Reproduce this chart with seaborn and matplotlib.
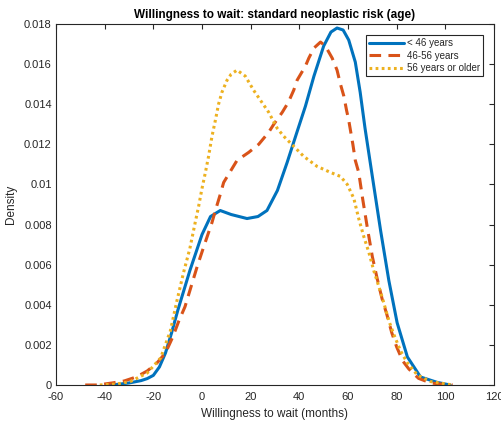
import numpy as np
import pandas as pd
import matplotlib
matplotlib.use("Agg")
import matplotlib.pyplot as plt
import seaborn as sns

# ---- data (density curves) ----
young_x = [-38, -35, -30, -25, -22.5, -20, -17.5, -15, -12.5, -10, -7.5, -5, -2.5, 0, 3.5,
           7.5, 12, 18.5, 23, 26.7, 31, 35, 39, 42.5, 46, 50, 53, 55.5, 58, 60.3, 63, 65, 67,
           70, 73.4, 76.8, 80.2, 84.4, 89.8, 96.7, 102]
young_y = [0.0, 0.00003, 0.0001, 0.00022, 0.00032, 0.00048, 0.0009, 0.0016, 0.0026, 0.0037,
           0.0047, 0.0057, 0.0066, 0.0075, 0.0084, 0.0087, 0.0085, 0.0083, 0.0084, 0.0087,
           0.0097, 0.0111, 0.0126, 0.0139, 0.0154, 0.0169, 0.0176, 0.0178, 0.0177, 0.0172,
           0.0161, 0.0146, 0.0128, 0.0104, 0.0077, 0.0052, 0.0031, 0.0014, 0.0004, 0.00013,
           0.0]

mid_x = [-48, -43, -37, -32, -27, -22.5, -18.5, -15, -12, -9.5, -7, -5, -2, 1, 4.1, 5.5,
         7.5, 8.9, 11.9, 14.4, 19.2, 23.3, 27.4, 29.5, 33, 35.5, 37.7, 39.1, 42.5, 43.9,
         46, 48.7, 50.7, 53.5, 55.5, 56.9, 58.3, 59.4, 60.3, 62, 63, 64.4, 66, 68, 70, 72,
         74, 76, 78, 80, 82.5, 85, 89, 94, 98, 103]
mid_y = [0.0, 0.0, 0.0001, 0.0002, 0.0004, 0.0007, 0.0011, 0.0016, 0.0024, 0.0032, 0.0039,
         0.0047, 0.0059, 0.0070, 0.0081, 0.0087, 0.0095, 0.0101, 0.0107, 0.0112, 0.0116,
         0.0120, 0.0126, 0.0130, 0.0136, 0.0141, 0.0147, 0.0152, 0.0159, 0.0163, 0.0168,
         0.0171, 0.0169, 0.0163, 0.0157, 0.0150, 0.0144, 0.0137, 0.0132, 0.0120, 0.0112,
         0.0106, 0.0093, 0.0078, 0.0064, 0.0053, 0.0043, 0.0035, 0.0026, 0.0019, 0.0012,
         0.0008, 0.00033, 0.0001, 0.00005, 0.0]

old_x = [-42, -35, -29.5, -22.5, -17, -13, -10.3, -7.6, -5, -2.8, -1.4, 0, 1.4, 2.7, 4.1,
         5.5, 6.8, 8.2, 10.3, 12, 14.4, 17.8, 21.2, 24, 27.4, 30.9, 33.6, 37.7, 41.8, 47.3,
         52.8, 56.9, 59.7, 62.4, 64.4, 66.5, 68.6, 70.6, 72.7, 74.7, 76.8, 78.9, 81.6, 84.4,
         88.5, 94, 103]
old_y = [0.0, 0.00005, 0.00017, 0.0006, 0.00135, 0.0027, 0.0042, 0.0056, 0.0068, 0.0081,
         0.0089, 0.0098, 0.0106, 0.0114, 0.0124, 0.0132, 0.0140, 0.0146, 0.0152, 0.0155,
         0.0157, 0.0154, 0.0147, 0.0142, 0.0136, 0.0128, 0.0124, 0.0119, 0.0114, 0.0109,
         0.0106, 0.0104, 0.0100, 0.0093, 0.0083, 0.0074, 0.0066, 0.0057, 0.0049, 0.0041,
         0.0032, 0.0025, 0.0017, 0.0011, 0.0005, 0.00017, 0.0]

labels = ["< 46 years", "46-56 years", "56 years or older"]
x_ticks = [-60, -40, -20, 0, 20, 40, 60, 80, 100, 120]
y_ticks = [0, 0.002, 0.004, 0.006, 0.008, 0.01, 0.012, 0.014, 0.016, 0.018]
y_tick_labels = ["0", "0.002", "0.004", "0.006", "0.008", "0.01", "0.012", "0.014", "0.016", "0.018"]

sns.set_theme(style="white")
plt.rcParams["font.family"] = ["Liberation Sans", "DejaVu Sans"]

fig = plt.figure(figsize=(5.02, 4.21), dpi=100)
ax = fig.add_axes([56 / 502, 1 - 385 / 421, (494 - 56) / 502, (385 - 24) / 421])

df_young = pd.DataFrame({"x": young_x, "y": young_y})
df_mid = pd.DataFrame({"x": mid_x, "y": mid_y})
df_old = pd.DataFrame({"x": old_x, "y": old_y})

lw = 2.2
sns.lineplot(data=df_young, x="x", y="y", ax=ax, color="#0072BD", lw=lw, label=labels[0],
             sort=False)
sns.lineplot(data=df_mid, x="x", y="y", ax=ax, color="#D95319", lw=lw, label=labels[1],
             sort=False)
sns.lineplot(data=df_old, x="x", y="y", ax=ax, color="#EDB120", lw=lw, label=labels[2],
             sort=False)
lines = ax.get_lines()
lines[1].set_dashes((3.8, 2.4))
lines[2].set_dashes((0.9, 1.1))
for ln in lines:
    ln.set_solid_joinstyle("round")
    ln.set_dash_joinstyle("round")

ax.set_xlim(-60, 120)
ax.set_ylim(0, 0.018)
ax.set_xticks(x_ticks)
ax.set_xticklabels([str(t) for t in x_ticks])
ax.set_yticks(y_ticks)
ax.set_yticklabels(y_tick_labels)

axcol = "#262626"
for s in ax.spines.values():
    s.set_visible(True)
    s.set_color(axcol)
    s.set_linewidth(0.8)
ax.tick_params(axis="both", which="both", direction="in", length=3.5, width=0.8,
               colors=axcol, labelcolor="#262626", labelsize=8, top=True, right=True)
ax.tick_params(axis="x", pad=5)
ax.tick_params(axis="y", pad=3)

ax.set_xlabel("Willingness to wait (months)", fontsize=8.5, color="#262626", labelpad=4)
ax.set_ylabel("Density", fontsize=8.5, color="#262626", labelpad=5)
ax.set_title("Willingness to wait: standard neoplastic risk (age)", fontsize=8.5,
             fontweight="bold", color="black", pad=4)

leg = ax.legend(loc="upper right", bbox_to_anchor=(0.976, 0.97), fontsize=7,
                frameon=True, fancybox=False, shadow=False, handlelength=3.6,
                handletextpad=0.3, borderpad=0.35, labelspacing=0.25,
                borderaxespad=0.0)
leg.get_frame().set_edgecolor("#262626")
leg.get_frame().set_linewidth(0.8)
leg.get_frame().set_facecolor("white")
leg.get_frame().set_alpha(1.0)

fig.savefig("out.png", dpi=100)
